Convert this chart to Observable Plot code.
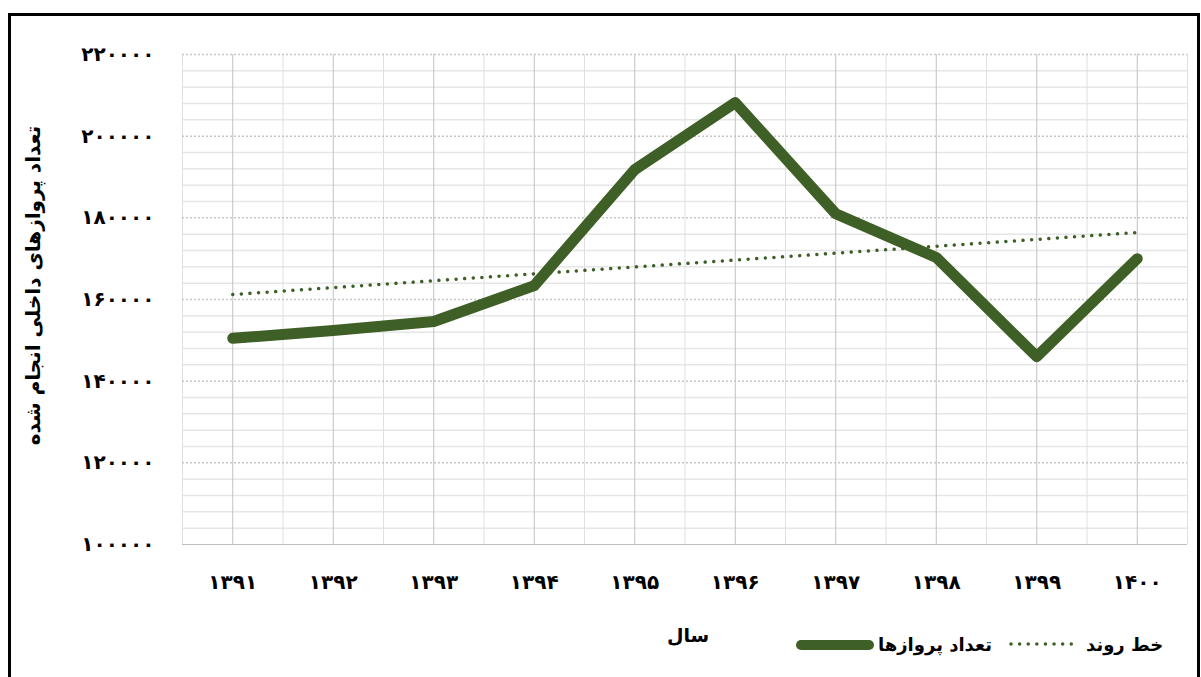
<!DOCTYPE html>
<html>
<head>
<meta charset="utf-8">
<script src="https://cdn.jsdelivr.net/npm/d3@7"></script>
<script src="https://cdn.jsdelivr.net/npm/@observablehq/plot@0.6"></script>
<style>
  html, body { margin: 0; padding: 0; background: #fff; width: 1201px; height: 677px; overflow: hidden; }
  body { position: relative; font-family: "DejaVu Sans", sans-serif; }
  #frame { position: absolute; left: 8px; top: 13px; width: 1192px; height: 720px; border: 3px solid #000; box-sizing: border-box; }
  #chart { position: absolute; left: 0; top: 0; }
  .lbl { position: absolute; font-weight: bold; font-size: 18px; color: #000; direction: rtl; white-space: nowrap; line-height: 1; }
  .sample { position: absolute; }
</style>
</head>
<body>
<div id="frame"></div>
<div id="chart"></div>
<div class="lbl" style="left:667px; top:626px; font-size:19px;">سال</div>
<svg class="sample" style="left:795px; top:638px;" width="80" height="14"><line x1="6" y1="7" x2="74" y2="7" stroke="#3e5f25" stroke-width="10" stroke-linecap="round"/></svg>
<div class="lbl" id="leg1" style="left:878px; top:636px;">تعداد پروازها</div>
<svg class="sample" style="left:1008px; top:638px;" width="70" height="12"><line x1="3" y1="6" x2="68" y2="6" stroke="#3e5f25" stroke-width="3.5" stroke-dasharray="0.01 8.6" stroke-linecap="round"/></svg>
<div class="lbl" id="leg2" style="left:1086px; top:636px;">خط روند</div>
<script>
const years = [1391, 1392, 1393, 1394, 1395, 1396, 1397, 1398, 1399, 1400];
const yearLabels = ["۱۳۹۱", "۱۳۹۲", "۱۳۹۳", "۱۳۹۴", "۱۳۹۵", "۱۳۹۶", "۱۳۹۷", "۱۳۹۸", "۱۳۹۹", "۱۴۰۰"];
const flights = [150500, 152400, 154600, 163400, 191800, 208200, 181000, 170300, 146000, 170000];
const yTicks = [100000, 120000, 140000, 160000, 180000, 200000, 220000];
const yTickLabels = ["۱۰۰۰۰۰", "۱۲۰۰۰۰", "۱۴۰۰۰۰", "۱۶۰۰۰۰", "۱۸۰۰۰۰", "۲۰۰۰۰۰", "۲۲۰۰۰۰"];
const yTitle = "تعداد پروازهای داخلی انجام شده";

const data = years.map((y, i) => ({ year: y, flights: flights[i] }));
const minorTicks = d3.range(104000, 220000, 4000).filter(v => v % 20000 !== 0);
const halfYears = d3.range(1390.5, 1401, 1);
const green = "#3e5f25";

const chart = Plot.plot({
  width: 1201,
  height: 610,
  marginLeft: 182,
  marginRight: 14,
  marginTop: 54,
  marginBottom: 66,
  x: { type: "linear", domain: [1390.5, 1400.5] },
  y: { domain: [100000, 220000] },
  style: { fontFamily: "DejaVu Sans, sans-serif", fontWeight: "bold", fontSize: "19px", color: "#000", background: "transparent", overflow: "visible" },
  marks: [
    Plot.ruleY(minorTicks, { stroke: "#e6e6e6", strokeWidth: 1.5 }),
    Plot.ruleX(halfYears, { stroke: "#e0e0e0", strokeWidth: 1 }),
    Plot.ruleX(years, { stroke: "#c2c2c2", strokeWidth: 1 }),
    Plot.ruleY(yTicks.filter(v => v > 100000), { stroke: "#c6c6c6", strokeWidth: 1.5, strokeDasharray: "2,2" }),
    Plot.ruleY([100000], { stroke: "#bfbfbf", strokeWidth: 1.2 }),
    Plot.axisY({ ticks: yTicks, tickFormat: d => yTickLabels[yTicks.indexOf(d)], tickSize: 0, tickPadding: 28, label: null, fontSize: 20, fontWeight: "bold" }),
    Plot.axisX({ ticks: years, tickFormat: d => yearLabels[years.indexOf(d)], tickSize: 0, tickPadding: 30, label: null, fontSize: 20, fontWeight: "bold" }),
    Plot.linearRegressionY(data, { x: "year", y: "flights", stroke: green, strokeWidth: 3.5, strokeDasharray: "0.01 8.6", strokeLinecap: "round", ci: 0 }),
    Plot.line(data, { x: "year", y: "flights", stroke: green, strokeWidth: 11, strokeLinejoin: "round", strokeLinecap: "round" }),
    Plot.text([yTitle], { frameAnchor: "left", textAnchor: "middle", dx: -149, dy: -14, rotate: -90, fontSize: 20, fontWeight: "bold", fill: "#000" })
  ]
});
document.getElementById("chart").appendChild(chart);
</script>
</body>
</html>
